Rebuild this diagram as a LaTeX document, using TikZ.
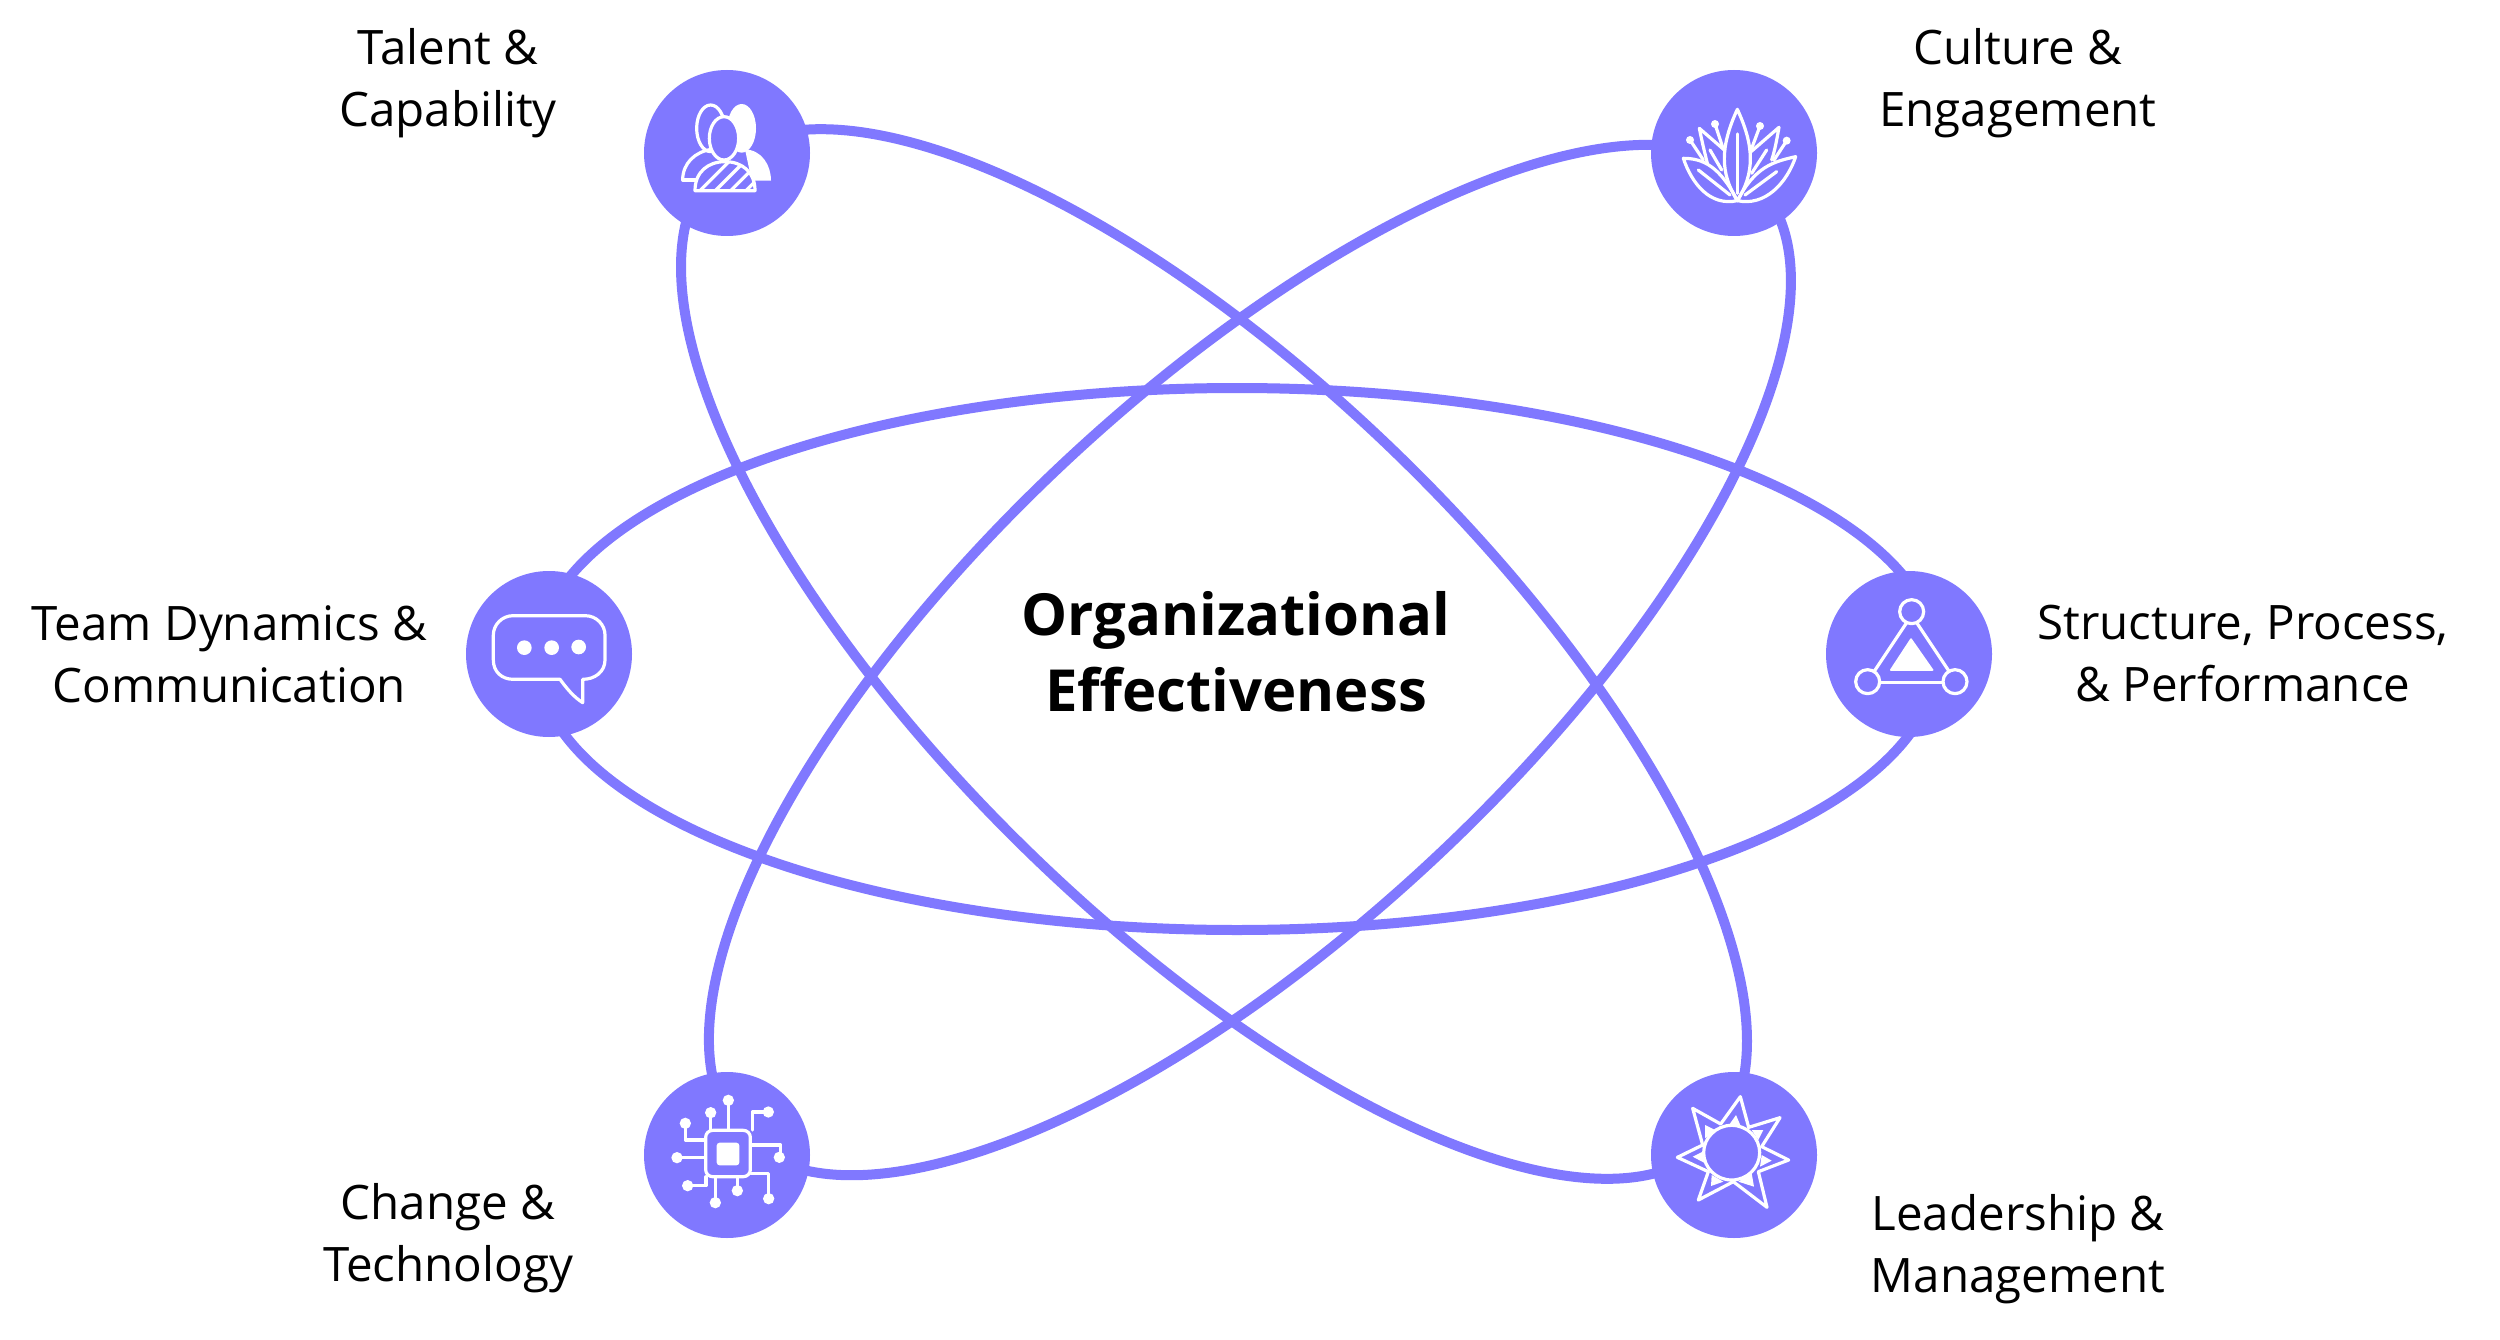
\documentclass[tikz,border=0pt]{standalone}
\usepackage{fontspec}
\setmainfont{Open Sans}
\definecolor{orbit}{RGB}{128,120,255}
\tikzset{
  orbitline/.style={draw=orbit,line width=10pt},
  hub/.style={circle,fill=orbit,minimum size=166pt,inner sep=0pt},
  lbl/.style={align=center,font=\fontsize{47.5}{62}\selectfont,text=black,inner sep=0pt},
  title/.style={align=center,font=\fontsize{58}{76}\selectfont\bfseries,text=black,inner sep=0pt},
  ic/.style={draw=white,line width=3.2pt,line join=round,line cap=round},
  icon/.style={x=0.33333pt,y=-0.33333pt}
}
\begin{document}
\begin{tikzpicture}[x=1pt,y=-1pt]
\useasboundingbox (0,0) rectangle (2500,1340);
\coordinate (c1) at (1237,659);
\coordinate (c2) at (1214,654);
\coordinate (c3) at (1250,660);
\draw[orbitline] (c1) ellipse [x radius=700,y radius=271];
\draw[orbitline,rotate around={-44.4:(c2)}] (c2) ellipse [x radius=697,y radius=271];
\draw[orbitline,rotate around={43.1:(c3)}] (c3) ellipse [x radius=696,y radius=271];
\node[hub] (tc) at (727,153) {};
\node[hub] (ce) at (1734,153) {};
\node[hub] (td) at (549,654) {};
\node[hub] (sp) at (1909,654) {};
\node[hub] (ct) at (727,1155) {};
\node[hub] (lm) at (1734,1155) {};
\node[title] (oe) at (1236,652) {Organizational\\Effectiveness};
\node[lbl] (l1) at (448,83) {Talent \&\\Capability};
\node[lbl] (l2) at (2018,83) {Culture \&\\Engagement};
\node[lbl] (l3) at (229.5,654) {Team Dynamics \&\\Communication};
\node[lbl] (l4) at (2243,654) {Structure, Process,\\\& Performance};
\node[lbl] (l5) at (448,1238) {Change \&\\Technology};
\node[lbl] (l6) at (2018,1249) {Leadership \&\\Management};
% people
\begin{scope}[shift={(620,50)},icon]
\draw[ic] (272,235) ellipse [x radius=42,y radius=70];
\fill[white] (365,235) ellipse [x radius=43,y radius=73];
\draw[ic] (188,390) .. controls (188,340) and (225,305) .. (275,298);
\draw[ic] (188,390) -- (230,390);
\fill[white] (375,298) .. controls (425,300) and (453,345) .. (453,392) -- (395,392) -- cycle;
\draw[ic,fill=orbit] (312,265) ellipse [x radius=44,y radius=65];
\begin{scope}
\clip (225,422) .. controls (225,365) and (265,335) .. (315,335) .. controls (365,335) and (405,365) .. (405,422) -- cycle;
\fill[orbit] (200,320) rectangle (420,430);
\foreach \k in {0,1,2,3,4}{\draw[white,line width=3.2pt] ({240+\k*46},422) -- ({340+\k*46},322);}
\end{scope}
\draw[ic] (225,422) .. controls (225,365) and (265,335) .. (315,335) .. controls (365,335) and (405,365) .. (405,422) -- cycle;
\end{scope}
% lotus
\begin{scope}[shift={(1630,50)},icon]
\draw[ic] (322,452) .. controls (270,370) and (270,290) .. (322,178) .. controls (374,290) and (374,370) .. (322,452);
\draw[ic] (322,252) -- (322,430);
\draw[ic] (322,452) .. controls (270,350) and (220,325) .. (160,325) .. controls (185,400) and (240,470) .. (322,452);
\draw[ic] (322,452) .. controls (375,350) and (430,335) .. (497,320) .. controls (470,400) and (405,470) .. (322,452);
\draw[ic] (205,360) -- (300,435);
\draw[ic] (440,365) -- (345,435);
\draw[ic] (232,340) .. controls (222,300) and (215,270) .. (208,235) -- (283,300);
\draw[ic] (425,330) .. controls (435,300) and (440,270) .. (447,232) -- (363,305);
\draw[ic] (240,300) -- (275,360);
\draw[ic] (410,300) -- (365,370);
\draw[ic] (180,270) -- (220,330);
\draw[ic] (255,222) -- (280,298);
\draw[ic] (390,228) -- (365,295);
\draw[ic] (470,272) -- (432,330);
\foreach \p in {(180,270),(255,222),(390,228),(470,272)}{\fill[white] \p circle [radius=12];}
\end{scope}
% bubble
\begin{scope}[shift={(450,550)},icon]
\draw[ic] (190,197) -- (405,197) .. controls (440,197) and (465,225) .. (465,255) -- (465,330) .. controls (465,365) and (435,388) .. (398,388) -- (398,458) .. controls (370,440) and (350,415) .. (330,388) -- (190,388) .. controls (155,388) and (130,365) .. (130,330) -- (130,255) .. controls (130,225) and (155,197) .. (190,197) -- cycle;
\fill[white] (223,293) circle [radius=22];
\fill[white] (305,293) circle [radius=22];
\fill[white] (386,291) circle [radius=22];
\end{scope}
% network
\begin{scope}[shift={(1800,550)},icon]
\draw[ic] (335,185) circle [radius=36];
\draw[ic] (203,395) circle [radius=36];
\draw[ic] (465,395) circle [radius=36];
\draw[ic] (320,218) -- (222,365);
\draw[ic] (350,218) -- (448,365);
\draw[ic] (240,397) -- (428,397);
\fill[white,draw=white,line width=1.5pt,line join=round] (333,267) -- (398,360) -- (272,360) -- cycle;
\end{scope}
% chip
\begin{scope}[shift={(620,1050)},icon]
\draw[ic,rounded corners=7pt] (257,241) rectangle (391,380);
\fill[white,rounded corners=3pt] (290,278) rectangle (358,346);
\draw[ic] (325,151) -- (325,240);
\draw[ic] (272,188) -- (272,240);
\draw[ic] (196,220) -- (196,270) -- (255,270);
\draw[ic] (171,323) -- (255,323);
\draw[ic] (203,407) -- (258,407) -- (258,380);
\draw[ic] (286,458) -- (286,380);
\draw[ic] (352,422) -- (352,380);
\draw[ic] (446,446) -- (446,370) -- (392,370);
\draw[ic] (482,322) -- (482,285) -- (392,285);
\draw[ic] (445,186) -- (397,186) -- (397,240);
\foreach \p in {(325,151),(272,188),(196,220),(171,323),(203,407),(286,458),(352,422),(446,446),(478,322),(445,186)}{\fill[white] \p circle [radius=17];}
\end{scope}
% sun
\begin{scope}[shift={(1630,1050)},icon]
\draw[ic] (188,175) -- (272,222) -- (331,140) -- (356,232) -- (450,203) -- (395,290) -- (476,330) -- (385,365) -- (411,472) -- (310,395) -- (205,450) -- (235,365) -- (142,322) -- (218,285) -- cycle;
\fill[white] (318,195) -- (335,235) -- (290,235) -- cycle;
\fill[white] (225,225) -- (255,240) -- (225,265) -- cycle;
\fill[white] (400,240) -- (385,270) -- (365,240) -- cycle;
\fill[white] (425,332) -- (390,350) -- (395,315) -- cycle;
\fill[white] (372,410) -- (325,395) -- (365,370) -- cycle;
\fill[white] (243,408) -- (245,375) -- (280,395) -- cycle;
\fill[white] (188,320) -- (218,305) -- (222,338) -- cycle;
\draw[ic,fill=orbit] (305,308) ellipse [x radius=84,y radius=82];
\end{scope}
\end{tikzpicture}
\end{document}
